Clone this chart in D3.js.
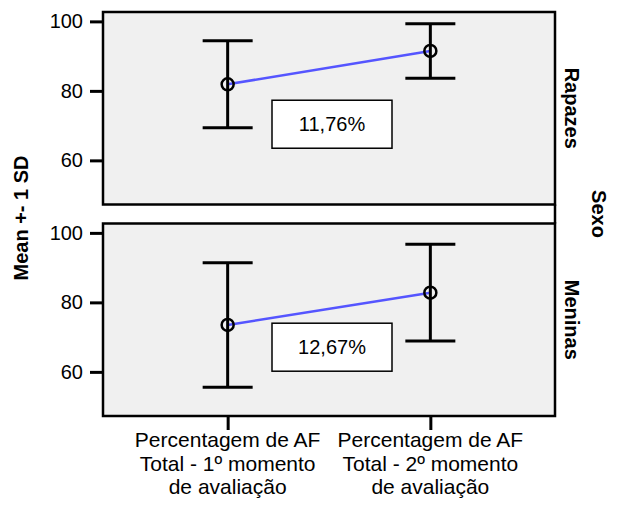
<!DOCTYPE html>
<html>
<head>
<meta charset="utf-8">
<script src="https://cdn.jsdelivr.net/npm/d3@7"></script>
<style>
  body { margin: 0; background: #fff; }
  text { font-family: Arial, "Liberation Sans", sans-serif; fill: #000; }
</style>
</head>
<body>
<script>
// data
let momentos = ["m1", "m2"]
let momentoLabels = [
  ["Percentagem de AF", "Total - 1º momento", "de avaliação"],
  ["Percentagem de AF", "Total - 2º momento", "de avaliação"]
]
let sexo = ["Rapazes", "Meninas"]
let meanRapazes = [81.9, 91.5]
let sdRapazes = [12.5, 7.85]
let meanMeninas = [73.5, 82.8]
let sdMeninas = [17.9, 13.95]
let pctLabels = ["11,76%", "12,67%"]
let yTicks = [60, 80, 100]

let means = [meanRapazes, meanMeninas]
let sds = [sdRapazes, sdMeninas]

// layout
let width = 624
let height = 506
let left = 103
let right = 555
let panelTops = [12, 223.5]
let panelH = 192.5
let labelAt = [70.4, 67.1] // where the % boxes sit (data units)
let fontSize = 20

let svg = d3.select("body")
  .append("svg")
  .attr("width", width)
  .attr("height", height)

let x = d3.scalePoint()
  .domain(momentos)
  .range([left, right])
  .padding(0.615)

sexo.forEach(function (s, i) {
  let top = panelTops[i]
  let y = d3.scaleLinear()
    .domain([47.3, 102.7])
    .range([top + panelH, top])

  let g = svg.append("g")

  g.append("rect")
    .attr("x", left)
    .attr("y", top)
    .attr("width", right - left)
    .attr("height", panelH)
    .attr("fill", "#f0f0f0")
    .attr("stroke", "#000")
    .attr("stroke-width", 2.5)

  // y axis
  let yAxis = d3.axisLeft(y)
    .tickValues(yTicks)
    .tickSize(13)
    .tickPadding(7)
  let ya = g.append("g")
    .attr("transform", "translate(" + left + ",0)")
    .call(yAxis)
  ya.select(".domain").remove()
  ya.selectAll(".tick line").attr("stroke", "#000").attr("stroke-width", 3)
  ya.selectAll(".tick text")
    .style("font-size", fontSize + "px")
    .style("font-family", "Arial, 'Liberation Sans', sans-serif")
    .attr("fill", "#000")

  // line between means
  let line = d3.line()
    .x(function (d, j) { return x(momentos[j]) })
    .y(function (d) { return y(d) })
  g.append("path")
    .datum(means[i])
    .attr("d", line)
    .attr("fill", "none")
    .attr("stroke", "#5555ff")
    .attr("stroke-width", 2.5)

  // % box
  let bx = (x(momentos[0]) + x(momentos[1])) / 2 + 3
  let by = y(labelAt[i])
  g.append("rect")
    .attr("x", bx - 60)
    .attr("y", by - 24)
    .attr("width", 120)
    .attr("height", 48)
    .attr("fill", "#fff")
    .attr("stroke", "#000")
    .attr("stroke-width", 1.5)
  g.append("text")
    .attr("x", bx)
    .attr("y", by + 7)
    .attr("text-anchor", "middle")
    .style("font-size", fontSize + "px")
    .text(pctLabels[i])

  // error bars
  momentos.forEach(function (m, j) {
    let cx = x(m)
    let hi = y(means[i][j] + sds[i][j])
    let lo = y(means[i][j] - sds[i][j])
    g.append("line")
      .attr("x1", cx).attr("x2", cx)
      .attr("y1", hi).attr("y2", lo)
      .attr("stroke", "#000").attr("stroke-width", 3)
    g.append("line")
      .attr("x1", cx - 25).attr("x2", cx + 25)
      .attr("y1", hi).attr("y2", hi)
      .attr("stroke", "#000").attr("stroke-width", 3)
    g.append("line")
      .attr("x1", cx - 25).attr("x2", cx + 25)
      .attr("y1", lo).attr("y2", lo)
      .attr("stroke", "#000").attr("stroke-width", 3)
    g.append("circle")
      .attr("cx", cx)
      .attr("cy", y(means[i][j]))
      .attr("r", 6)
      .attr("fill", "none")
      .attr("stroke", "#000")
      .attr("stroke-width", 2.5)
  })

  // strip label
  let sy = top + panelH / 2
  g.append("text")
    .attr("transform", "translate(565," + sy + ") rotate(90)")
    .attr("text-anchor", "middle")
    .style("font-size", fontSize + "px")
    .style("font-weight", "bold")
    .text(s)
})

// right frame line through the gap
svg.append("line")
  .attr("x1", right).attr("x2", right)
  .attr("y1", panelTops[0] + panelH).attr("y2", panelTops[1])
  .attr("stroke", "#000").attr("stroke-width", 2.5)

// x axis
let bottom = panelTops[1] + panelH
let xAxis = d3.axisBottom(x).tickSize(14).tickFormat("")
let xa = svg.append("g")
  .attr("transform", "translate(0," + bottom + ")")
  .call(xAxis)
xa.select(".domain").remove()
xa.selectAll(".tick line").attr("stroke", "#000").attr("stroke-width", 3)

momentos.forEach(function (m, j) {
  let t = svg.append("text")
    .attr("x", x(m))
    .attr("y", 447)
    .attr("text-anchor", "middle")
    .style("font-size", "21px")
  momentoLabels[j].forEach(function (l, k) {
    t.append("tspan")
      .attr("x", x(m))
      .attr("dy", k === 0 ? 0 : 23.5)
      .text(l)
  })
})

// axis titles
svg.append("text")
  .attr("transform", "translate(28,218) rotate(-90)")
  .attr("text-anchor", "middle")
  .style("font-size", fontSize + "px")
  .style("font-weight", "bold")
  .text("Mean +- 1 SD")

svg.append("text")
  .attr("transform", "translate(592,214) rotate(90)")
  .attr("text-anchor", "middle")
  .style("font-size", fontSize + "px")
  .style("font-weight", "bold")
  .text("Sexo")
</script>
</body>
</html>
